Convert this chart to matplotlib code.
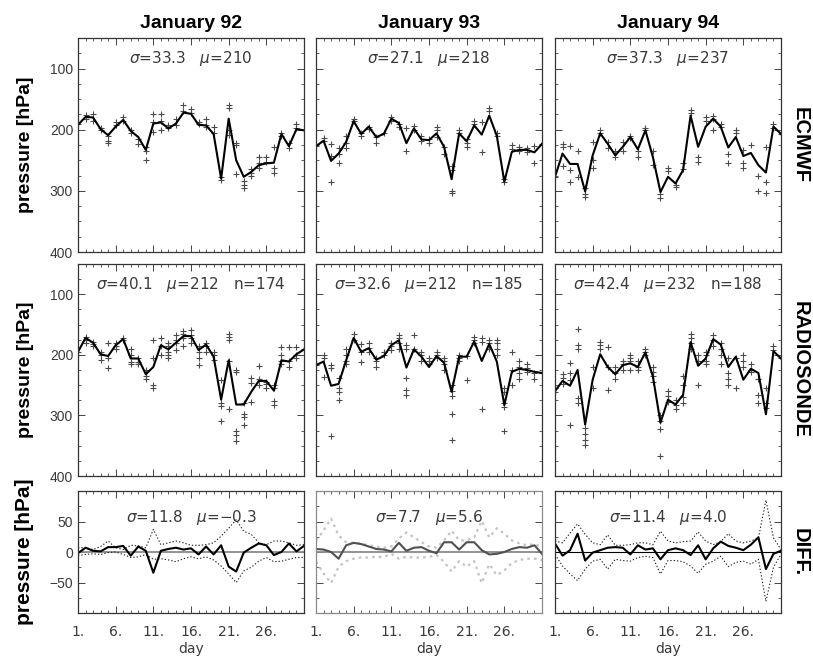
import numpy as np
import matplotlib
matplotlib.use('Agg')
import matplotlib.pyplot as plt
from matplotlib.ticker import MultipleLocator, FixedLocator

# ---------------------------------------------------------------------------
# Data
# ---------------------------------------------------------------------------
days = list(range(1, 32))
col_titles = ['January 92', 'January 93', 'January 94']
row_names = ['ECMWF', 'RADIOSONDE', 'DIFF.']
x_ticks = [1, 6, 11, 16, 21, 26]
x_tick_labels = ['1.', '6.', '11.', '16.', '21.', '26.']

ecmwf_sigma = [33.3, 27.1, 37.3]
ecmwf_mu = [210, 218, 237]
radio_sigma = [40.1, 32.6, 42.4]
radio_mu = [212, 212, 232]
radio_n = [174, 185, 188]
diff_sigma = [11.8, 7.7, 11.4]
diff_mu = [-0.3, 5.6, 4.0]

# daily mean lines, ECMWF
ecmwf_92 = [192, 179, 180, 199, 209, 195, 184, 202, 212, 233, 190, 188, 198, 190, 172, 174,
            192, 193, 207, 280, 182, 250, 277, 269, 258, 255, 254, 207, 227, 199, 201]
ecmwf_93 = [227, 218, 251, 239, 220, 186, 207, 195, 212, 207, 182, 189, 222, 198, 216, 217,
            206, 228, 281, 206, 219, 193, 208, 177, 210, 285, 236, 233, 233, 237, 223]
ecmwf_94 = [277, 239, 256, 256, 301, 242, 206, 223, 242, 228, 212, 232, 201, 245, 302, 277,
            288, 266, 177, 228, 195, 182, 195, 229, 212, 243, 238, 258, 270, 195, 207]

# daily mean lines, radiosonde
radio_92 = [195, 172, 180, 199, 202, 184, 174, 206, 206, 232, 220, 184, 191, 180, 169, 169,
            192, 183, 203, 274, 209, 282, 282, 261, 243, 243, 259, 209, 211, 199, 191]
radio_93 = [217, 211, 251, 248, 209, 172, 195, 189, 208, 202, 184, 176, 221, 191, 203, 220,
            202, 213, 261, 203, 203, 178, 210, 182, 211, 283, 228, 223, 225, 228, 230]
radio_94 = [260, 243, 251, 225, 315, 241, 199, 220, 232, 217, 214, 220, 196, 236, 312, 274,
            282, 266, 179, 218, 206, 174, 183, 220, 203, 241, 223, 230, 298, 194, 206]

# single values per day, ECMWF
ecmwf_pts_92 = [[190], [176, 182], [175, 186], [197, 201], [210, 218, 222], [188, 192],
                [180, 185], [200, 205], [215, 224], [228, 235, 250], [175, 188, 203],
                [175, 185, 200], [192, 197], [183, 192], [159, 170], [166, 172], [188, 190],
                [183, 192, 195], [195, 205], [278, 283], [160, 165, 200, 208], [222, 225, 272],
                [284, 290, 296], [265, 270, 276], [245, 255, 262], [245, 252], [228, 262, 270],
                [205, 210], [222, 230], [190, 197], [200]]
ecmwf_pts_93 = [[227], [213, 218], [224, 243, 286], [230, 240, 255], [210, 222, 230], [182, 186],
                [205, 210], [195, 199], [212, 222], [205], [180, 185], [190, 195], [197, 235],
                [194, 200], [210, 218], [215, 222], [195, 201, 212], [228, 240],
                [259, 266, 300, 304], [200, 205], [215, 222, 228], [185, 190], [188, 237],
                [164, 169], [205, 210], [280, 285], [225, 232], [228, 235], [230, 236],
                [227, 254], [223]]
ecmwf_pts_94 = [[277], [224, 229, 260], [226, 266, 285], [235, 278], [295, 305, 310],
                [220, 250, 262], [200, 205], [220, 230], [235, 245], [220, 235], [210, 214],
                [235, 245], [197, 201], [235, 258], [305, 312], [262, 268], [290, 294],
                [255, 265], [167, 172], [245, 252], [180, 185], [178, 183, 200], [190, 196],
                [240, 255], [200, 205], [233, 255, 262], [225], [275, 300], [228, 285, 304],
                [190, 197], [207]]

# single soundings per day
radio_pts_92 = [[195, 200], [170, 175, 180], [178, 182, 185], [195, 200, 208], [181, 205, 222],
                [180, 185, 190], [172, 175], [190, 200, 212, 215], [205, 212, 215],
                [225, 235, 240], [175, 206, 249, 254], [172, 185, 200], [180, 185, 195, 200, 205],
                [168, 175, 180, 192], [160, 165, 172, 185], [159, 168, 172, 180],
                [185, 195, 205, 217], [180, 185, 195], [195, 200, 208], [242, 280, 285, 310],
                [165, 170, 176, 210, 290], [225, 229, 326, 332, 342], [280, 297, 303, 315],
                [239, 247, 278], [218, 240, 250], [245, 248, 255], [250, 255, 277, 282],
                [187, 200, 210, 215], [187, 210, 220], [187, 200, 205], [190]]
radio_pts_93 = [[217], [200, 205, 236], [217, 222, 334], [238, 255, 262, 274], [190, 200, 210, 215],
                [165, 175], [182, 195, 211], [180, 188, 195], [205, 210, 220], [195, 200],
                [180, 185, 192], [168, 172, 180, 190], [184, 190, 238, 258, 266], [168, 190],
                [195, 200, 210], [205, 210, 215], [195, 200, 205], [205, 210, 215, 225],
                [250, 260, 268, 298, 340], [200, 205, 210], [202, 241], [170, 175, 180],
                [172, 178, 290], [175, 180, 190], [175, 180, 190, 200], [255, 262, 280, 286, 325],
                [195, 225, 250], [210, 220, 230, 240], [215, 222, 228], [230, 240], [230]]
radio_pts_94 = [[255, 262], [232, 238, 248], [214, 230, 241, 315], [158, 184, 190, 271, 279],
                [320, 330, 340, 348], [220, 255], [179, 184, 190], [187, 220, 258], [220, 230, 240],
                [210, 215, 225], [200, 205, 210, 225], [210, 220, 225], [190, 196, 200],
                [220, 228, 235, 245], [300, 310, 322, 367], [260, 268, 278], [275, 282, 290],
                [235, 250, 270, 280], [165, 172, 180, 190], [200, 210, 249], [195, 200, 210, 215],
                [168, 175, 185], [180, 190, 200, 215], [205, 230, 240, 250], [205, 255],
                [200, 210, 220], [215, 225, 228], [240, 266, 279], [255, 280, 288], [185, 192],
                [206]]

# differences and their spread (dotted envelopes)
diff_92 = [-2, 7, 2, 1, 8, 8, 10, -6, 9, 2, -34, 2, 5, 7, 4, 6, -4, 9, -4, 11, -24, -32,
           -1, 7, 14, 11, -5, 0, 14, 1, 10]
diff_hi_92 = [7, 7, 4, 9, 18, 7, 4, 11, 10, 7, 37, 12, 15, 18, 15, 11, 11, 12, 15, 26, 39,
              53, 34, 29, 15, 12, 18, 18, 15, 11, 12]
diff_lo_92 = [-6, -4, -3, -4, -1, 0, -4, -9, -8, -4, -12, -11, -13, -16, -11, -8, -11, -8,
              -13, -23, -36, -50, -31, -25, -15, -9, -16, -15, -12, -9, -9]
diff_93 = [5, 4, 0, -11, 11, 15, 13, 9, 5, 4, 1, 15, 2, 7, 8, 2, -2, 16, 16, 4, 16, 16, 3,
           -4, -3, 0, 5, 8, 7, 11, -3]
diff_hi_93 = [19, 35, 55, 27, 16, 15, 14, 11, 9, 7, 9, 22, 32, 24, 16, 9, 7, 19, 35, 19, 19,
              24, 51, 24, 39, 30, 19, 14, 11, 13, 8]
diff_lo_93 = [-16, -35, -51, -24, -15, -11, -9, -9, -8, -8, -3, -11, -8, -9, -9, -8, -5, -16,
              -32, -15, -24, -15, -51, -20, -38, -30, -18, -13, -11, -11, -13]
diff_94 = [14, -6, 3, 30, -14, -1, 3, 7, 8, 7, -4, 11, 4, 6, -12, 3, 6, 3, -5, 11, -12, 6,
           17, 10, 7, 3, 12, 24, -28, -3, 2]
diff_hi_94 = [18, 15, 31, 46, 29, 15, 12, 28, 11, 11, 12, 15, 15, 12, 34, 18, 15, 17, 18, 33,
              18, 12, 17, 30, 18, 15, 18, 23, 85, 23, 4]
diff_lo_94 = [-4, -23, -36, -47, -28, -15, -12, -28, -12, -14, -15, -9, -7, -9, -36, -14, -14,
              -16, -23, -35, -20, -15, -7, -24, -17, -15, -20, -12, -81, -25, -4]

# ---------------------------------------------------------------------------
# Layout (pixel boxes of the reference)
# ---------------------------------------------------------------------------
W, H = 813, 660
COL_X = [78, 316, 555]
COL_W = 226
ROW_Y = [(38, 252), (264, 476), (491, 613)]

TICK_FONT = 'Liberation Sans'
STAT_FONT = 'DejaVu Sans'
BOLD_FONT = 'Liberation Sans'
TXT_COL = '#3a3a3a'

fig = plt.figure(figsize=(W / 100, H / 100), dpi=100)


def make_axes(r, c):
    top, bot = ROW_Y[r]
    ax = fig.add_axes([COL_X[c] / W, 1 - bot / H, COL_W / W, (bot - top) / H])
    ax.set_xlim(1, 31)
    ax.xaxis.set_major_locator(FixedLocator([1, 6, 11, 16, 21, 26, 31]))
    ax.xaxis.set_minor_locator(MultipleLocator(1))
    ax.tick_params(which='both', direction='in', top=True, right=True,
                   colors='#444', labelsize=10, labelcolor=TXT_COL)
    ax.tick_params(which='major', length=5, width=0.7)
    ax.tick_params(which='minor', length=2.5, width=0.6)
    for sp in ax.spines.values():
        sp.set_linewidth(0.9)
        sp.set_color('#333')
    for lab in ax.get_xticklabels() + ax.get_yticklabels():
        lab.set_fontfamily(TICK_FONT)
    return ax


def stat_text(ax, s, y=0.905):
    ax.text(0.5, y, s, transform=ax.transAxes, ha='center', va='center',
            fontsize=11, color=TXT_COL, family=STAT_FONT)


def fmt(v):
    return f'{v}'.replace('-', '\u2212')


line_rows = [(ecmwf_92, ecmwf_93, ecmwf_94), (radio_92, radio_93, radio_94)]
pts_rows = [(ecmwf_pts_92, ecmwf_pts_93, ecmwf_pts_94),
            (radio_pts_92, radio_pts_93, radio_pts_94)]
diff_lines = [diff_92, diff_93, diff_94]
diff_his = [diff_hi_92, diff_hi_93, diff_hi_94]
diff_los = [diff_lo_92, diff_lo_93, diff_lo_94]

# ---------------------------------------------------------------------------
# Pressure rows (ECMWF, radiosonde)
# ---------------------------------------------------------------------------
for r in range(2):
    for c in range(3):
        ax = make_axes(r, c)
        pts = pts_rows[r][c]
        px = [d for d, vals in zip(days, pts) for _ in vals]
        py = [v for vals in pts for v in vals]
        ax.plot(px, py, linestyle='none', marker='+', markersize=5,
                markeredgewidth=0.8, color='#4a4a4a')
        ax.plot(days, line_rows[r][c], color='black', lw=1.5)
        ax.set_ylim(400, 50)
        ax.yaxis.set_major_locator(FixedLocator([100, 200, 300, 400]))
        ax.yaxis.set_minor_locator(MultipleLocator(25))
        ax.set_xticklabels([])
        if c > 0:
            ax.set_yticklabels([])
        else:
            for lab in ax.get_yticklabels():
                lab.set_fontfamily(TICK_FONT)
        if r == 0:
            stat_text(ax, rf'$\sigma$={ecmwf_sigma[c]}   $\mu$={ecmwf_mu[c]}')
        else:
            stat_text(ax, rf'$\sigma$={radio_sigma[c]}   $\mu$={radio_mu[c]}   n={radio_n[c]}')

# ---------------------------------------------------------------------------
# Difference row
# ---------------------------------------------------------------------------
for c in range(3):
    ax = make_axes(2, c)
    if c == 1:
        # the middle panel is a faded grey print in the original
        dot_col, line_col, zero_col = '#c4c4c4', '#505050', '#8a8a8a'
        dot_lw = 1.6
        for sp in ax.spines.values():
            sp.set_color('#8a8a8a')
    else:
        dot_col, line_col, zero_col = '#222', 'black', '#8a8a8a' if c == 0 else 'black'
        dot_lw = 0.8
    ax.axhline(0, color=zero_col, lw=1.3 if c < 2 else 0.8)
    ax.plot(days, diff_his[c], linestyle=(0, (1.2, 1.8)), color=dot_col, lw=dot_lw)
    ax.plot(days, diff_los[c], linestyle=(0, (1.2, 1.8)), color=dot_col, lw=dot_lw)
    ax.plot(days, diff_lines[c], color=line_col, lw=1.5)
    ax.set_ylim(-100, 100)
    ax.yaxis.set_major_locator(FixedLocator([-50, 0, 50]))
    ax.yaxis.set_minor_locator(MultipleLocator(25))
    ax.set_xticks(x_ticks + [31])
    ax.set_xticklabels(x_tick_labels + [''], fontfamily=STAT_FONT, color=TXT_COL)
    ax.tick_params(axis='x', pad=9)
    if c > 0:
        ax.set_yticklabels([])
    else:
        ax.set_yticklabels(['\u221250', '0', '50'], fontfamily=TICK_FONT, color=TXT_COL)
    ax.set_xlabel('day', fontsize=10, color=TXT_COL, family=STAT_FONT, labelpad=2)
    stat_text(ax, rf'$\sigma$={diff_sigma[c]}   $\mu$={fmt(diff_mu[c])}', y=0.78)

# ---------------------------------------------------------------------------
# Titles and row labels
# ---------------------------------------------------------------------------
for c, t in enumerate(col_titles):
    fig.text((COL_X[c] + COL_W / 2) / W, 1 - 24 / H, t, ha='center', va='center',
             fontsize=14, fontweight='bold', family=BOLD_FONT)

for r, name in enumerate(row_names):
    top, bot = ROW_Y[r]
    yc = 1 - (top + bot) / 2 / H
    fig.text(800 / W, yc, name, rotation=-90, ha='center', va='center',
             fontsize=14.5, fontweight='bold', family=BOLD_FONT)
    fig.text(25 / W, yc, 'pressure [hPa]', rotation=90, ha='center', va='center',
             fontsize=14 if r < 2 else 15, fontweight='bold', family=BOLD_FONT)

plt.savefig('out.png', dpi=100)
plt.close()
